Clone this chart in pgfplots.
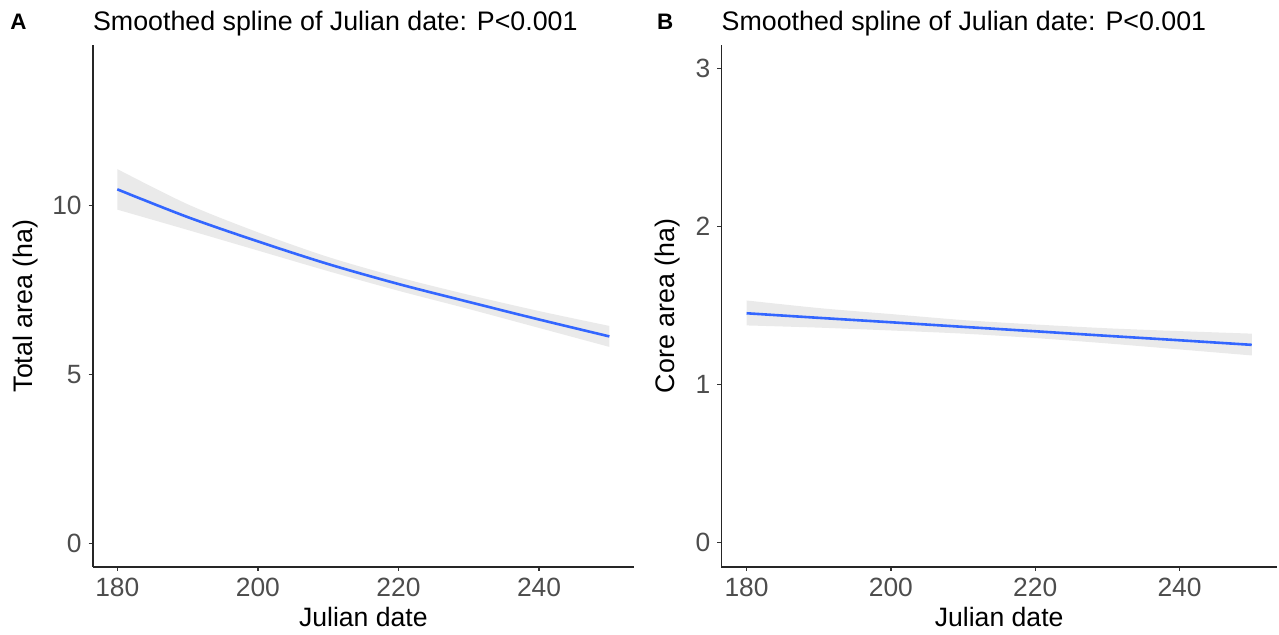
\documentclass[border=0pt]{standalone}
\usepackage{pgfplots}
\pgfplotsset{compat=1.18}
\usepackage{pgfplotstable}
\usepgfplotslibrary{fillbetween}
\usepackage{fontspec}
\setmainfont{Liberation Sans}
\definecolor{smoothblue}{HTML}{3366FF}
\definecolor{bandgrey}{HTML}{EAEAEA}
\definecolor{ticklab}{HTML}{4D4D4D}

\pgfplotstableread{
x y lo hi
180 10.47 9.87 11.07
190 9.65 9.27 10.03
200 8.93 8.66 9.20
210 8.26 8.05 8.47
220 7.67 7.47 7.87
230 7.14 6.93 7.35
240 6.62 6.37 6.87
250 6.12 5.81 6.43
}\totaldata

\pgfplotstableread{
x y lo hi
180 1.449 1.372 1.530
190 1.420 1.358 1.482
200 1.392 1.340 1.444
210 1.363 1.320 1.406
220 1.335 1.292 1.378
230 1.306 1.258 1.354
240 1.278 1.220 1.336
250 1.249 1.182 1.320
}\coredata

\pgfplotsset{panel/.style={
  scale only axis, height=261pt, clip=false,
  xmin=176.5, xmax=253.5,
  axis x line*=bottom, axis y line*=left,
  axis line style={-, line width=0.8pt, color=black!85},
  xtick={180,200,220,240},
  tick align=outside, major tick length=2pt,
  tick style={color=black!80, line width=0.6pt},
  ticklabel style={font=\fontsize{13.2}{15}\selectfont, color=ticklab},
  /pgf/number format/assume math mode=true,
  xlabel={Julian date},
  xlabel style={at={(axis description cs:0.5,-0.1149)}, anchor=base, font=\fontsize{13.3}{15}\selectfont, inner sep=0pt},
  every axis title shift=0pt,
  title={Smoothed spline of Julian date: P<0.001},
  title style={at={(axis description cs:0,1.0268)}, anchor=base west, font=\fontsize{13.4}{15}\selectfont, inner sep=0pt},
}}

\begin{document}
\begin{tikzpicture}
\begin{axis}[panel, at={(46.35pt,34pt)}, anchor=south west, width=270.65pt,
  ymin=-0.70, ymax=14.74, ytick={0,5,10},
  ylabel={Total area (ha)},
  ylabel style={at={(axis description cs:-0.1103,0.5)}, rotate=0, anchor=base, font=\fontsize{13.4}{15}\selectfont, inner sep=0pt}]
\addplot[name path=upA, draw=none, smooth, forget plot] table[x=x,y=hi]{\totaldata};
\addplot[name path=loA, draw=none, smooth, forget plot] table[x=x,y=lo]{\totaldata};
\addplot[fill=bandgrey, draw=none, forget plot] fill between[of=upA and loA];
\addplot[smooth, color=smoothblue, line width=1.3pt] table[x=x,y=y]{\totaldata};
\node[anchor=base west, inner sep=0pt, font=\fontsize{11.2}{13}\selectfont\bfseries] at (axis description cs:-0.1528,1.0301) {A};
\end{axis}

\begin{axis}[panel, at={(360.65pt,34pt)}, anchor=south west, width=277.85pt,
  ymin=-0.157, ymax=3.147, ytick={0,1,2,3},
  ylabel={Core area (ha)},
  ylabel style={at={(axis description cs:-0.0846,0.5)}, rotate=0, anchor=base, font=\fontsize{13.4}{15}\selectfont, inner sep=0pt}]
\addplot[name path=upB, draw=none, smooth, forget plot] table[x=x,y=hi]{\coredata};
\addplot[name path=loB, draw=none, smooth, forget plot] table[x=x,y=lo]{\coredata};
\addplot[fill=bandgrey, draw=none, forget plot] fill between[of=upB and loB];
\addplot[smooth, color=smoothblue, line width=1.3pt] table[x=x,y=y]{\coredata};
\node[anchor=base west, inner sep=0pt, font=\fontsize{11.2}{13}\selectfont\bfseries] at (axis description cs:-0.1163,1.0301) {B};
\end{axis}
\pgfresetboundingbox
\path[use as bounding box] (0,0) rectangle (639.5pt,317.5pt);
\end{tikzpicture}
\end{document}
